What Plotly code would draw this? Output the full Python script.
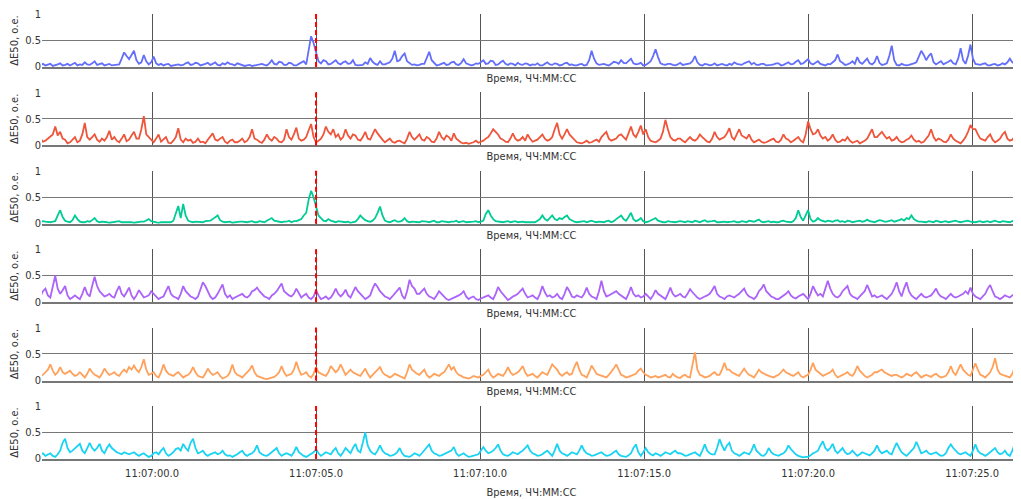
import plotly.graph_objects as go
from plotly.subplots import make_subplots
import pandas as pd

# ---------------- data ----------------
start_time = "2024-01-01 11:06:56.600"
step_seconds = 0.075

series_names = ["Канал 1", "Канал 2", "Канал 3", "Канал 4", "Канал 5", "Канал 6"]

blue_values = [
    0.03,0.05,0.02,0.04,0.05,0.01,0.02,0.04,0.06,0.02,0.03,0.05,0.02,0.04,0.07,0.02,0.04,0.03,0.08,0.04,
    0.03,0.06,0.1,0.03,0.04,0.06,0.02,0.03,0.05,0.02,0.03,0.04,0.04,0.15,0.27,0.2,0.14,0.22,0.3,0.12,
    0.05,0.08,0.22,0.1,0.04,0.08,0.19,0.06,0.03,0.05,0.02,0.04,0.05,0.01,0.02,0.04,0.04,0.02,0.03,0.06,
    0.08,0.03,0.04,0.07,0.06,0.02,0.03,0.05,0.07,0.03,0.05,0.08,0.03,0.02,0.06,0.04,0.08,0.05,0.04,0.02,
    0.06,0.04,0.03,0.01,0.02,0.03,0.01,0.02,0.02,0.04,0.05,0.03,0.02,0.06,0.12,0.05,0.04,0.09,0.08,0.03,
    0.03,0.07,0.06,0.02,0.02,0.05,0.08,0.1,0.04,0.3,0.58,0.45,0.25,0.1,0.06,0.12,0.1,0.04,0.05,0.09,
    0.12,0.06,0.04,0.08,0.1,0.05,0.06,0.12,0.03,0.02,0.02,0.03,0.08,0.05,0.16,0.09,0.05,0.03,0.1,0.04,
    0.04,0.06,0.08,0.15,0.3,0.1,0.12,0.2,0.25,0.1,0.06,0.03,0.04,0.02,0.03,0.05,0.05,0.15,0.28,0.12,
    0.06,0.02,0.03,0.05,0.07,0.03,0.04,0.08,0.09,0.04,0.03,0.07,0.14,0.06,0.04,0.02,0.03,0.06,0.05,0.09,
    0.12,0.05,0.06,0.11,0.1,0.03,0.04,0.08,0.11,0.05,0.03,0.06,0.05,0.02,0.07,0.04,0.03,0.06,0.05,0.02,
    0.04,0.03,0.06,0.02,0.02,0.05,0.08,0.04,0.03,0.06,0.05,0.02,0.03,0.06,0.07,0.03,0.04,0.02,0.02,0.04,
    0.05,0.02,0.03,0.12,0.3,0.15,0.06,0.03,0.04,0.05,0.03,0.02,0.05,0.09,0.08,0.05,0.12,0.07,0.06,0.1,
    0.15,0.06,0.04,0.05,0.07,0.02,0.03,0.06,0.1,0.2,0.33,0.18,0.06,0.04,0.03,0.05,0.05,0.03,0.02,0.04,
    0.07,0.03,0.04,0.05,0.06,0.1,0.2,0.08,0.03,0.02,0.05,0.04,0.02,0.03,0.06,0.02,0.04,0.05,0.03,0.02,
    0.05,0.03,0.08,0.05,0.04,0.03,0.06,0.08,0.1,0.04,0.07,0.03,0.03,0.05,0.05,0.02,0.02,0.03,0.04,0.06,
    0.06,0.02,0.03,0.05,0.08,0.04,0.05,0.09,0.12,0.05,0.06,0.1,0.14,0.06,0.04,0.07,0.1,0.05,0.03,0.02,
    0.05,0.04,0.08,0.12,0.23,0.1,0.07,0.03,0.04,0.06,0.1,0.05,0.18,0.08,0.05,0.1,0.15,0.06,0.04,0.08,
    0.2,0.07,0.03,0.04,0.06,0.2,0.4,0.12,0.03,0.02,0.05,0.03,0.02,0.03,0.04,0.06,0.08,0.2,0.3,0.22,
    0.12,0.2,0.25,0.08,0.04,0.07,0.1,0.04,0.06,0.09,0.12,0.06,0.04,0.15,0.35,0.12,0.05,0.2,0.42,0.15,
    0.05,0.04,0.03,0.05,0.06,0.02,0.02,0.04,0.05,0.02,0.03,0.06,0.04,0.08,0.15,0.08,0.06,0.03,0.03,0.05,0.05,
]

red_values = [
    0.12,0.06,0.08,0.12,0.15,0.2,0.35,0.18,0.25,0.12,0.1,0.03,0.05,0.1,0.15,0.05,0.08,0.2,0.42,0.15,
    0.1,0.15,0.2,0.1,0.06,0.12,0.08,0.15,0.27,0.1,0.15,0.08,0.05,0.12,0.2,0.07,0.1,0.18,0.25,0.12,
    0.12,0.3,0.55,0.2,0.15,0.08,0.05,0.12,0.2,0.06,0.1,0.15,0.04,0.03,0.08,0.15,0.32,0.1,0.05,0.12,
    0.08,0.1,0.04,0.06,0.12,0.05,0.06,0.03,0.1,0.15,0.22,0.1,0.08,0.12,0.15,0.06,0.03,0.08,0.1,0.05,
    0.05,0.08,0.12,0.05,0.08,0.15,0.3,0.12,0.1,0.06,0.04,0.1,0.2,0.12,0.08,0.15,0.12,0.06,0.05,0.1,
    0.3,0.15,0.1,0.2,0.33,0.12,0.08,0.1,0.15,0.28,0.4,0.15,0.05,0.08,0.12,0.2,0.35,0.25,0.2,0.3,
    0.15,0.2,0.1,0.15,0.3,0.18,0.12,0.2,0.18,0.1,0.08,0.15,0.25,0.12,0.1,0.2,0.3,0.22,0.15,0.1,
    0.05,0.08,0.12,0.06,0.04,0.07,0.08,0.05,0.03,0.12,0.25,0.15,0.1,0.15,0.2,0.1,0.08,0.15,0.12,0.06,
    0.05,0.12,0.25,0.15,0.1,0.18,0.15,0.08,0.22,0.12,0.08,0.04,0.03,0.04,0.02,0.03,0.05,0.08,0.04,0.06,
    0.08,0.12,0.15,0.22,0.3,0.25,0.2,0.12,0.1,0.06,0.05,0.12,0.22,0.12,0.08,0.1,0.15,0.08,0.2,0.12,
    0.06,0.08,0.1,0.15,0.2,0.12,0.08,0.1,0.15,0.3,0.42,0.2,0.12,0.2,0.3,0.2,0.15,0.08,0.05,0.04,
    0.03,0.05,0.08,0.04,0.05,0.08,0.1,0.06,0.15,0.2,0.25,0.12,0.08,0.1,0.12,0.18,0.2,0.15,0.1,0.22,
    0.35,0.2,0.15,0.25,0.37,0.2,0.3,0.15,0.08,0.06,0.05,0.08,0.12,0.25,0.48,0.3,0.15,0.1,0.08,0.12,
    0.12,0.08,0.05,0.1,0.15,0.1,0.08,0.12,0.2,0.15,0.1,0.06,0.05,0.12,0.25,0.15,0.1,0.12,0.15,0.22,
    0.32,0.15,0.1,0.2,0.3,0.18,0.15,0.12,0.2,0.1,0.05,0.08,0.1,0.06,0.04,0.05,0.08,0.1,0.12,0.06,
    0.05,0.1,0.2,0.12,0.1,0.05,0.08,0.12,0.15,0.08,0.05,0.2,0.45,0.3,0.2,0.22,0.3,0.18,0.12,0.15,
    0.08,0.12,0.2,0.1,0.05,0.06,0.1,0.08,0.15,0.08,0.04,0.06,0.08,0.03,0.05,0.08,0.12,0.2,0.3,0.15,
    0.15,0.2,0.25,0.18,0.12,0.15,0.08,0.1,0.15,0.08,0.05,0.06,0.1,0.12,0.18,0.1,0.06,0.08,0.04,0.06,
    0.12,0.18,0.3,0.15,0.08,0.12,0.1,0.06,0.05,0.1,0.2,0.12,0.08,0.05,0.03,0.08,0.15,0.25,0.38,0.3,
    0.3,0.2,0.12,0.1,0.08,0.15,0.2,0.1,0.05,0.08,0.12,0.2,0.25,0.12,0.08,0.1,0.15,0.22,0.35,0.25,0.2,
]

green_values = [
    0.02,0.04,0.03,0.02,0.02,0.03,0.04,0.15,0.25,0.12,0.05,0.03,0.02,0.06,0.15,0.08,0.03,0.02,0.02,0.04,
    0.03,0.06,0.1,0.04,0.02,0.03,0.03,0.02,0.01,0.02,0.02,0.04,0.04,0.02,0.02,0.03,0.03,0.02,0.01,0.02,
    0.02,0.03,0.03,0.05,0.08,0.04,0.03,0.02,0.01,0.02,0.02,0.03,0.03,0.02,0.05,0.2,0.33,0.1,0.37,0.15,
    0.05,0.03,0.02,0.03,0.03,0.02,0.02,0.04,0.04,0.05,0.08,0.12,0.15,0.06,0.03,0.02,0.02,0.03,0.01,0.02,
    0.02,0.03,0.03,0.02,0.02,0.03,0.04,0.02,0.02,0.04,0.03,0.02,0.05,0.07,0.1,0.05,0.04,0.03,0.02,0.03,
    0.03,0.05,0.02,0.04,0.04,0.06,0.08,0.15,0.2,0.45,0.62,0.5,0.3,0.15,0.1,0.05,0.04,0.08,0.05,0.03,
    0.02,0.04,0.03,0.02,0.02,0.03,0.01,0.02,0.03,0.08,0.15,0.1,0.06,0.04,0.03,0.05,0.1,0.2,0.32,0.15,
    0.05,0.03,0.02,0.04,0.06,0.03,0.03,0.05,0.1,0.04,0.02,0.03,0.03,0.02,0.02,0.04,0.04,0.03,0.02,0.03,
    0.05,0.02,0.02,0.04,0.03,0.02,0.02,0.03,0.03,0.05,0.02,0.03,0.04,0.02,0.02,0.03,0.03,0.04,0.02,0.03,
    0.05,0.18,0.25,0.15,0.08,0.04,0.03,0.02,0.02,0.03,0.04,0.02,0.03,0.04,0.02,0.03,0.03,0.02,0.02,0.03,
    0.03,0.02,0.05,0.08,0.15,0.08,0.05,0.1,0.15,0.08,0.06,0.1,0.08,0.12,0.15,0.08,0.05,0.03,0.02,0.03,
    0.03,0.04,0.02,0.03,0.05,0.03,0.02,0.03,0.03,0.02,0.04,0.05,0.02,0.04,0.08,0.12,0.15,0.08,0.05,0.12,
    0.2,0.08,0.04,0.06,0.1,0.04,0.02,0.03,0.05,0.08,0.1,0.05,0.03,0.02,0.02,0.04,0.03,0.02,0.02,0.03,
    0.04,0.03,0.02,0.04,0.03,0.02,0.05,0.03,0.02,0.04,0.06,0.03,0.03,0.04,0.05,0.02,0.02,0.03,0.03,0.02,
    0.02,0.03,0.04,0.02,0.02,0.04,0.03,0.02,0.05,0.04,0.03,0.05,0.07,0.03,0.02,0.03,0.04,0.02,0.03,0.02,
    0.02,0.04,0.05,0.03,0.03,0.02,0.04,0.1,0.25,0.12,0.05,0.15,0.25,0.08,0.03,0.05,0.1,0.06,0.04,0.03,
    0.05,0.04,0.03,0.05,0.06,0.03,0.04,0.02,0.05,0.04,0.02,0.03,0.04,0.05,0.03,0.04,0.07,0.04,0.03,0.02,
    0.04,0.06,0.05,0.03,0.03,0.05,0.06,0.03,0.04,0.06,0.08,0.05,0.1,0.08,0.15,0.08,0.05,0.03,0.03,0.02,
    0.02,0.04,0.03,0.02,0.05,0.03,0.02,0.03,0.04,0.02,0.03,0.04,0.05,0.03,0.02,0.03,0.04,0.05,0.03,0.02,
    0.02,0.03,0.04,0.02,0.03,0.04,0.02,0.03,0.05,0.03,0.02,0.04,0.03,0.02,0.02,0.04,0.05,0.03,0.03,0.05,0.04,
]

purple_values = [
    0.1,0.2,0.25,0.12,0.08,0.3,0.5,0.25,0.15,0.22,0.3,0.12,0.05,0.08,0.12,0.08,0.05,0.15,0.28,0.15,
    0.1,0.3,0.48,0.3,0.2,0.15,0.1,0.12,0.15,0.1,0.08,0.2,0.3,0.15,0.1,0.18,0.27,0.12,0.05,0.12,
    0.22,0.15,0.08,0.1,0.12,0.2,0.15,0.08,0.05,0.08,0.1,0.2,0.3,0.15,0.1,0.08,0.05,0.15,0.3,0.2,
    0.15,0.1,0.08,0.05,0.1,0.22,0.37,0.3,0.2,0.1,0.05,0.08,0.15,0.25,0.33,0.15,0.08,0.12,0.05,0.08,
    0.1,0.12,0.15,0.1,0.08,0.12,0.2,0.22,0.27,0.2,0.15,0.1,0.08,0.05,0.12,0.15,0.2,0.28,0.35,0.2,
    0.15,0.12,0.1,0.15,0.25,0.15,0.08,0.12,0.15,0.08,0.05,0.1,0.22,0.12,0.05,0.07,0.1,0.05,0.08,0.15,
    0.25,0.15,0.1,0.15,0.23,0.12,0.08,0.18,0.28,0.2,0.15,0.08,0.05,0.08,0.12,0.25,0.35,0.28,0.2,0.15,
    0.1,0.08,0.05,0.1,0.15,0.2,0.27,0.12,0.05,0.2,0.42,0.3,0.25,0.15,0.15,0.2,0.25,0.15,0.1,0.08,
    0.05,0.12,0.2,0.15,0.1,0.05,0.03,0.05,0.08,0.1,0.12,0.15,0.2,0.1,0.05,0.08,0.1,0.05,0.03,0.06,
    0.08,0.1,0.12,0.08,0.05,0.15,0.28,0.2,0.15,0.08,0.03,0.06,0.1,0.12,0.15,0.2,0.25,0.15,0.08,0.1,
    0.12,0.08,0.05,0.15,0.3,0.18,0.1,0.12,0.08,0.1,0.15,0.08,0.05,0.15,0.28,0.2,0.1,0.08,0.12,0.1,
    0.08,0.15,0.27,0.15,0.1,0.08,0.05,0.2,0.4,0.2,0.1,0.12,0.15,0.18,0.2,0.15,0.12,0.08,0.05,0.15,
    0.28,0.15,0.1,0.12,0.08,0.1,0.15,0.1,0.05,0.12,0.22,0.15,0.12,0.08,0.05,0.15,0.27,0.15,0.1,0.12,
    0.15,0.1,0.08,0.15,0.24,0.18,0.12,0.08,0.05,0.08,0.1,0.12,0.15,0.22,0.3,0.15,0.1,0.08,0.05,0.1,
    0.12,0.1,0.08,0.12,0.15,0.2,0.25,0.15,0.1,0.08,0.05,0.1,0.2,0.25,0.33,0.2,0.15,0.1,0.08,0.05,
    0.05,0.08,0.12,0.15,0.2,0.12,0.08,0.06,0.1,0.12,0.15,0.1,0.05,0.15,0.3,0.2,0.12,0.15,0.1,0.25,
    0.4,0.25,0.15,0.1,0.08,0.12,0.2,0.25,0.3,0.15,0.1,0.08,0.05,0.1,0.15,0.2,0.32,0.2,0.1,0.12,
    0.08,0.1,0.12,0.08,0.05,0.1,0.15,0.25,0.37,0.2,0.1,0.25,0.37,0.2,0.12,0.08,0.05,0.1,0.15,0.1,
    0.08,0.1,0.12,0.18,0.25,0.15,0.1,0.08,0.05,0.1,0.15,0.1,0.08,0.1,0.12,0.15,0.2,0.15,0.27,0.15,
    0.1,0.08,0.05,0.1,0.15,0.25,0.32,0.2,0.1,0.08,0.05,0.08,0.12,0.1,0.08,0.12,0.15,0.22,0.3,0.2,0.12,
]

orange_values = [
    0.08,0.1,0.15,0.2,0.3,0.18,0.1,0.15,0.25,0.15,0.12,0.15,0.18,0.12,0.08,0.1,0.15,0.1,0.05,0.12,
    0.22,0.15,0.1,0.08,0.05,0.12,0.22,0.15,0.1,0.12,0.15,0.1,0.08,0.15,0.2,0.15,0.25,0.2,0.28,0.2,
    0.15,0.25,0.4,0.2,0.1,0.12,0.15,0.08,0.05,0.15,0.3,0.18,0.12,0.1,0.08,0.12,0.15,0.1,0.05,0.08,
    0.1,0.15,0.25,0.15,0.08,0.06,0.05,0.12,0.22,0.15,0.1,0.12,0.15,0.08,0.03,0.05,0.08,0.15,0.3,0.15,
    0.1,0.08,0.05,0.1,0.15,0.2,0.28,0.15,0.08,0.06,0.05,0.03,0.02,0.03,0.04,0.06,0.1,0.15,0.27,0.15,
    0.08,0.1,0.12,0.2,0.35,0.2,0.1,0.12,0.15,0.08,0.05,0.12,0.25,0.15,0.12,0.1,0.08,0.15,0.27,0.2,
    0.15,0.2,0.3,0.2,0.1,0.15,0.2,0.15,0.12,0.1,0.08,0.15,0.22,0.12,0.05,0.1,0.15,0.2,0.25,0.15,
    0.1,0.08,0.05,0.08,0.12,0.1,0.08,0.05,0.03,0.15,0.3,0.2,0.15,0.12,0.1,0.15,0.2,0.1,0.05,0.08,
    0.12,0.1,0.08,0.12,0.15,0.22,0.3,0.2,0.25,0.15,0.1,0.08,0.05,0.04,0.03,0.05,0.08,0.06,0.05,0.08,
    0.1,0.15,0.2,0.1,0.05,0.08,0.12,0.1,0.08,0.15,0.25,0.15,0.1,0.12,0.15,0.2,0.27,0.15,0.08,0.1,
    0.12,0.08,0.05,0.1,0.15,0.12,0.1,0.2,0.3,0.25,0.2,0.12,0.08,0.12,0.15,0.1,0.12,0.25,0.35,0.2,
    0.1,0.08,0.05,0.15,0.28,0.2,0.12,0.1,0.08,0.06,0.05,0.1,0.15,0.22,0.3,0.2,0.1,0.08,0.05,0.06,
    0.08,0.1,0.12,0.18,0.22,0.15,0.1,0.08,0.05,0.06,0.08,0.05,0.06,0.08,0.1,0.06,0.05,0.12,0.08,0.05,
    0.04,0.08,0.1,0.06,0.05,0.3,0.53,0.2,0.1,0.08,0.05,0.06,0.08,0.12,0.15,0.1,0.1,0.2,0.33,0.2,
    0.2,0.15,0.12,0.1,0.08,0.15,0.22,0.15,0.1,0.08,0.05,0.12,0.2,0.15,0.12,0.1,0.08,0.06,0.05,0.08,
    0.1,0.15,0.2,0.15,0.12,0.1,0.08,0.12,0.15,0.08,0.05,0.08,0.1,0.2,0.33,0.2,0.15,0.12,0.08,0.1,
    0.12,0.15,0.2,0.1,0.05,0.08,0.1,0.12,0.15,0.1,0.08,0.15,0.27,0.18,0.12,0.08,0.05,0.08,0.1,0.15,
    0.15,0.18,0.2,0.15,0.12,0.1,0.08,0.1,0.1,0.08,0.05,0.08,0.12,0.1,0.08,0.12,0.15,0.1,0.05,0.08,
    0.1,0.08,0.06,0.1,0.12,0.08,0.05,0.06,0.08,0.15,0.27,0.15,0.1,0.2,0.3,0.2,0.15,0.1,0.08,0.2,
    0.32,0.2,0.1,0.08,0.05,0.1,0.15,0.25,0.42,0.2,0.12,0.1,0.08,0.06,0.05,0.12,0.25,0.15,0.1,0.12,0.15,
]

cyan_values = [
    0.08,0.1,0.05,0.08,0.1,0.05,0.03,0.08,0.15,0.3,0.38,0.2,0.12,0.15,0.2,0.25,0.28,0.15,0.1,0.2,
    0.3,0.2,0.15,0.2,0.28,0.15,0.1,0.2,0.27,0.2,0.15,0.12,0.1,0.08,0.12,0.1,0.08,0.1,0.12,0.08,
    0.05,0.08,0.1,0.06,0.03,0.05,0.1,0.12,0.08,0.15,0.2,0.1,0.05,0.08,0.12,0.18,0.2,0.15,0.28,0.2,
    0.15,0.3,0.38,0.2,0.1,0.12,0.15,0.08,0.05,0.08,0.1,0.12,0.08,0.1,0.15,0.08,0.05,0.06,0.03,0.05,
    0.08,0.12,0.15,0.08,0.05,0.08,0.1,0.15,0.25,0.12,0.08,0.06,0.05,0.08,0.12,0.15,0.2,0.1,0.05,0.08,
    0.1,0.08,0.05,0.12,0.22,0.12,0.08,0.05,0.03,0.06,0.1,0.12,0.18,0.1,0.05,0.08,0.12,0.1,0.08,0.15,
    0.2,0.1,0.05,0.12,0.2,0.15,0.1,0.2,0.28,0.15,0.12,0.3,0.5,0.25,0.15,0.1,0.08,0.15,0.25,0.15,
    0.1,0.08,0.05,0.06,0.08,0.12,0.2,0.1,0.05,0.04,0.03,0.06,0.1,0.08,0.05,0.1,0.15,0.2,0.27,0.15,
    0.1,0.08,0.05,0.06,0.08,0.1,0.12,0.15,0.22,0.1,0.05,0.08,0.1,0.06,0.03,0.04,0.05,0.06,0.08,0.15,
    0.22,0.15,0.1,0.12,0.15,0.2,0.27,0.15,0.08,0.06,0.05,0.08,0.12,0.1,0.08,0.12,0.15,0.2,0.25,0.15,
    0.1,0.08,0.05,0.06,0.08,0.12,0.15,0.1,0.05,0.15,0.28,0.15,0.1,0.08,0.05,0.08,0.12,0.1,0.08,0.15,
    0.25,0.15,0.1,0.08,0.05,0.06,0.08,0.1,0.12,0.08,0.05,0.06,0.08,0.12,0.15,0.08,0.05,0.04,0.03,0.06,
    0.1,0.2,0.27,0.12,0.05,0.12,0.2,0.12,0.08,0.06,0.1,0.08,0.05,0.08,0.12,0.1,0.08,0.12,0.15,0.1,
    0.1,0.08,0.05,0.06,0.08,0.1,0.12,0.08,0.05,0.15,0.27,0.15,0.1,0.08,0.08,0.2,0.37,0.25,0.15,0.25,
    0.3,0.15,0.1,0.08,0.05,0.08,0.12,0.1,0.08,0.15,0.27,0.15,0.1,0.06,0.05,0.1,0.2,0.12,0.08,0.06,
    0.05,0.08,0.1,0.15,0.25,0.18,0.12,0.08,0.05,0.03,0.02,0.03,0.03,0.06,0.1,0.12,0.15,0.25,0.33,0.2,
    0.15,0.2,0.28,0.15,0.1,0.15,0.2,0.12,0.08,0.1,0.15,0.1,0.05,0.08,0.12,0.1,0.08,0.06,0.1,0.15,
    0.25,0.15,0.1,0.12,0.15,0.1,0.08,0.2,0.3,0.2,0.12,0.08,0.05,0.1,0.15,0.2,0.32,0.2,0.1,0.12,
    0.15,0.1,0.08,0.1,0.12,0.08,0.05,0.06,0.1,0.2,0.27,0.2,0.15,0.1,0.08,0.1,0.12,0.08,0.05,0.15,
    0.27,0.15,0.1,0.08,0.05,0.08,0.12,0.15,0.2,0.12,0.08,0.1,0.15,0.08,0.05,0.15,0.28,0.2,0.12,0.1,0.15,
]

series_values = [blue_values, red_values, green_values, purple_values, orange_values, cyan_values]
series_colors = ["#636EFA", "#EF553B", "#00CC96", "#AB63FA", "#FFA15A", "#19D3F3"]

x_tick_values = ["2024-01-01 11:07:00", "2024-01-01 11:07:05", "2024-01-01 11:07:10",
                 "2024-01-01 11:07:15", "2024-01-01 11:07:20", "2024-01-01 11:07:25"]
x_tick_labels = ["11:07:00.0", "11:07:05.0", "11:07:10.0", "11:07:15.0", "11:07:20.0", "11:07:25.0"]
y_tick_values = [0, 0.5, 1]
y_tick_labels = ["0", "0.5", "1"]
event_time = "2024-01-01 11:07:05"
x_range = ["2024-01-01 11:06:56.646", "2024-01-01 11:07:26.49"]
y_title = "ΔE50, о.е."
x_title = "Время, ЧЧ:ММ:СС"

# ---------------- figure ----------------
FONT = "DejaVu Sans Condensed, Liberation Sans Narrow, Roboto, sans-serif"
W, H = 1021, 499
mt, mb, ml, mr = 6, 48, 34, 8
plot_h = H - mt - mb
panel_px = 53
pitch_px = 78.4

fig = make_subplots(rows=6, cols=1, shared_xaxes=True, vertical_spacing=0.02)

for k, (vals, col, name) in enumerate(zip(series_values, series_colors, series_names)):
    times = pd.date_range(start=start_time, periods=len(vals),
                          freq=pd.Timedelta(seconds=step_seconds))
    fig.add_trace(go.Scatter(x=times, y=vals, mode="lines", name=name,
                             line=dict(color=col, width=1.8), showlegend=False),
                  row=k + 1, col=1)
    top_px = mt + pitch_px * k
    bot_px = top_px + panel_px
    d0 = (H - mb - bot_px) / plot_h
    d1 = (H - mb - top_px) / plot_h
    yname = "yaxis" if k == 0 else f"yaxis{k+1}"
    fig.layout[yname].update(domain=[max(d0, 0), min(d1, 1)])
    fig.add_shape(type="line", x0=event_time, x1=event_time, y0=0, y1=1,
                  xref="x" if k == 0 else f"x{k+1}",
                  yref=("y" if k == 0 else f"y{k+1}") + " domain",
                  line=dict(color="red", width=2, dash="5px,3px"))

fig.update_yaxes(range=[-0.01, 1.005], tickvals=y_tick_values, ticktext=y_tick_labels,
                 showgrid=True, gridcolor="#777", gridwidth=1, zeroline=False,
                 showline=False, ticks="", automargin=False,
                 title=dict(text=y_title, standoff=6,
                            font=dict(size=11, color="#333", family=FONT)),
                 tickfont=dict(size=11, color="#333", family=FONT), fixedrange=True)

fig.update_xaxes(range=x_range, tickvals=x_tick_values, ticktext=x_tick_labels,
                 showgrid=True, gridcolor="#555", gridwidth=1, zeroline=False,
                 showline=True, linecolor="#777", linewidth=2, ticks="", automargin=False,
                 title=dict(text=x_title, standoff=6, font=dict(size=11, color="#333", family=FONT)),
                 tickfont=dict(size=11, color="#333", family=FONT))
fig.update_xaxes(ticklabelstandoff=3, title_standoff=9, row=6, col=1)

fig.update_layout(width=W, height=H, margin=dict(l=ml, r=mr, t=mt, b=mb, autoexpand=False),
                  plot_bgcolor="white", paper_bgcolor="white",
                  font=dict(family=FONT, size=11, color="#333"))

fig.write_html("out.html")
